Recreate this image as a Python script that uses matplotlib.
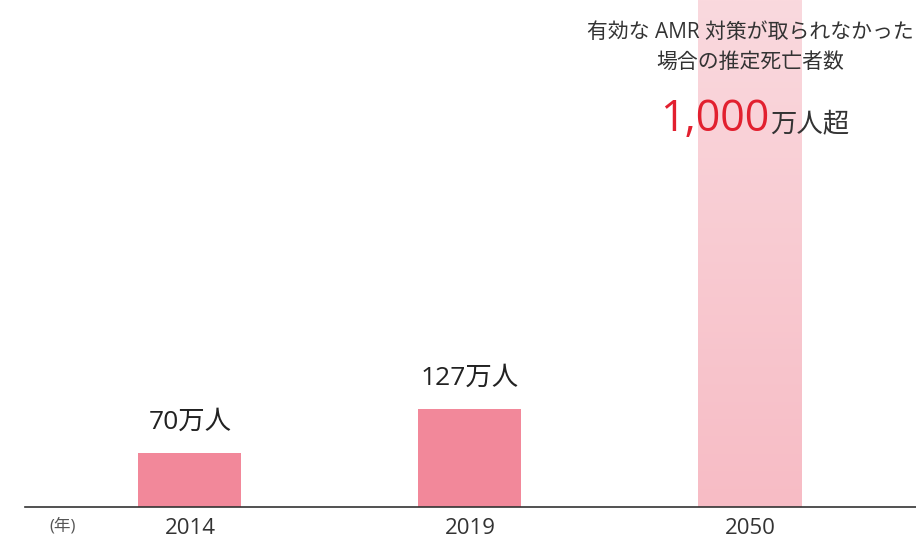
import numpy as np
import matplotlib
matplotlib.use("Agg")
import matplotlib.pyplot as plt
from matplotlib.colors import LinearSegmentedColormap

# Latin glyphs from Open Sans, Japanese falls through to Noto CJK
plt.rcParams['font.family'] = ['Open Sans', 'Noto Sans CJK JP', 'DejaVu Sans']

# data (estimated deaths, 万人)
years = ["2014", "2019", "2050"]
deaths = [70, 127, 1000]
bar_labels = ["70万人", "127万人", None]
note_lines = "有効な AMR 対策が取られなかった\n場合の推定死亡者数"
big_num = "1,000"
big_unit = "万人超"

text_col = "#333333"
bar_col = "#f2889a"
red = "#e2202f"

fig = plt.figure(figsize=(9.16, 5.4), dpi=100)
ax = fig.add_axes([25 / 916, 33 / 540, 1 - 25 / 916, 507 / 540])

x = np.arange(len(years))
width = 0.368
ax.bar(x[:2], deaths[:2], width=width, color=bar_col, zorder=2)

# 2050 bar with a light gradient
ymax = 658
b3 = ax.bar(x[2], deaths[2], width=width, color="#f7bec6", zorder=2)[0]
cmap = LinearSegmentedColormap.from_list("pk", ["#f7bcc5", "#fad9de"])
grad = np.linspace(0, 1, 256).reshape(-1, 1)
im = ax.imshow(grad, extent=[x[2] - width / 2, x[2] + width / 2, 0, ymax],
               origin="lower", aspect="auto", cmap=cmap, zorder=2.1)
im.set_clip_path(b3)

ax.set_xlim(-0.589, 2.593)
ax.set_ylim(0, ymax)

for xi, v, lab in zip(x, deaths, bar_labels):
    if lab:
        ax.text(xi, v + 31, lab, ha="center", va="baseline", fontsize=19,
                color="#222222")

tr = ax.get_xaxis_transform()
ax.text(x[2], 0.907, note_lines, transform=tr, ha="center", va="center",
        fontsize=15, color=text_col, linespacing=1.55)
ax.text(x[2] + 0.071, 0.742, big_num, transform=tr, ha="right", va="baseline",
        fontsize=31, color=red)
ax.text(x[2] + 0.071, 0.742, big_unit, transform=tr, ha="left", va="baseline",
        fontsize=19, color=text_col)

for s in ["top", "right", "left"]:
    ax.spines[s].set_visible(False)
ax.spines["bottom"].set_color(text_col)
ax.spines["bottom"].set_linewidth(1.2)
ax.set_yticks([])
ax.set_xticks(x)
ax.set_xticklabels(years, fontsize=16, color=text_col)
ax.tick_params(axis="x", length=0, pad=8)
ax.text(-0.455, -0.037, "(年)", transform=tr, ha="center", va="center",
        fontsize=12, color="#555555")

fig.savefig("out.png", dpi=100)
